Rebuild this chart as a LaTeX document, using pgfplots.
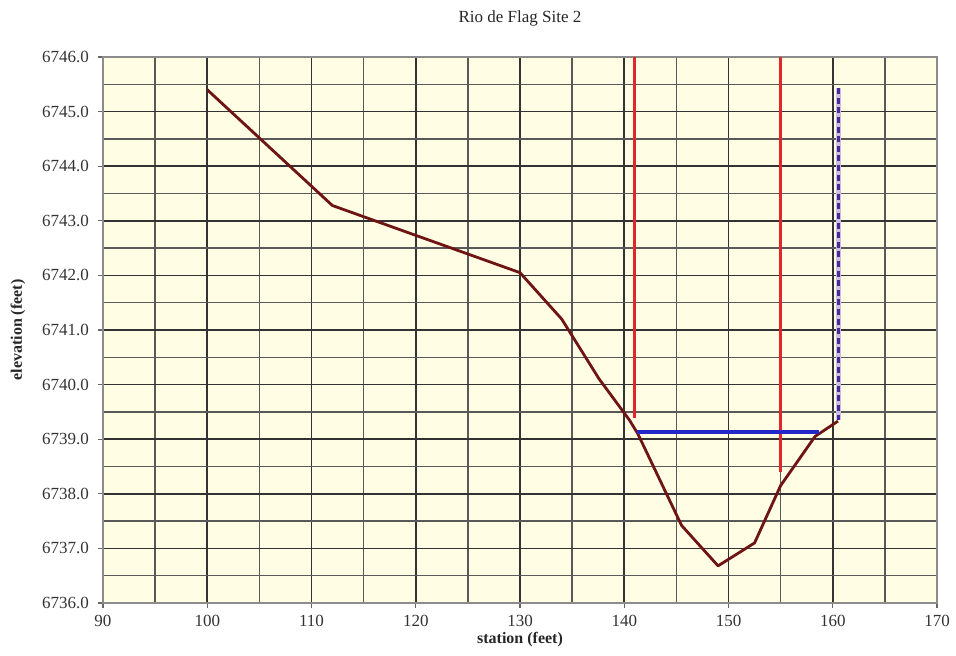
\documentclass[border=0pt]{standalone}
\usepackage{pgfplots}
\pgfplotsset{compat=1.18}
\usepackage{fontspec}
\setmainfont{Liberation Serif}
\definecolor{bgy}{HTML}{FFFDE3}
\definecolor{ground}{HTML}{6E1414}
\definecolor{redl}{HTML}{E0282C}
\definecolor{bluel}{HTML}{2428C8}
\definecolor{purp}{HTML}{4A2A9A}
\begin{document}
\begin{tikzpicture}
\begin{axis}[
  at={(0,0)}, anchor=south west,
  scale only axis, width=417pt, height=273pt,
  xmin=90, xmax=170, ymin=6736, ymax=6746,
  xtick={90,100,...,170}, minor xtick={95,105,...,165},
  ytick={6736,6737,...,6746}, minor ytick={6736.5,6737.5,...,6745.5},
  yticklabel={\pgfmathprintnumber[fixed,fixed zerofill,precision=1,use period,1000 sep={}]{\tick}},
  xticklabel={\pgfmathprintnumber[fixed,precision=0]{\tick}},
  /pgf/number format/assume math mode=true,
  tick label style={font=\fontsize{8.5}{10}\selectfont, text=black!80},
  grid=both,
  major grid style={draw=black!80, line width=0.85pt},
  minor grid style={draw=black!65, line width=0.75pt},
  axis background/.style={fill=bgy},
  axis line style={draw=black!45, line width=0.8pt},
  tick style={draw=black!60, line width=0.6pt},
  tick align=outside, major tick length=2.5pt, minor tick length=0pt,
  xtick pos=bottom, ytick pos=left,
  yticklabel style={xshift=-1pt},
]
\addplot[draw=ground, line width=1.4pt, line join=round] coordinates {
  (100,6745.40) (112,6743.28) (130,6742.05) (134,6741.20) (137.6,6740.10)
  (140.5,6739.35) (141.3,6739.10) (145.5,6737.42) (149,6736.68) (152.5,6737.10)
  (155,6738.15) (158.3,6739.05) (160.5,6739.33)
};
\addplot[draw=redl, line width=1.4pt] coordinates {(141,6746) (141,6739.38)};
\addplot[draw=redl, line width=1.4pt] coordinates {(155,6746) (155,6738.40)};
\addplot[draw=bluel, line width=1.7pt] coordinates {(141.2,6739.13) (158.7,6739.13)};
\addplot[draw=purp!30, line width=2.4pt] coordinates {(160.57,6745.43) (160.57,6739.35)};
\addplot[draw=purp, line width=1.3pt, dash pattern=on 3pt off 1.8pt] coordinates {(160.57,6745.43) (160.57,6739.35)};
\end{axis}
\node[font=\fontsize{8.5}{10}\selectfont, text=black!85] at (208.5pt,292.5pt) {Rio de Flag Site 2};
\node[font=\fontsize{8}{10}\selectfont\bfseries, text=black!85] at (208.5pt,-18.5pt) {station (feet)};
\node[font=\fontsize{8}{10}\selectfont\bfseries, text=black!85, rotate=90] at (-42.5pt,136.5pt) {elevation (feet)};
\pgfresetboundingbox
\useasboundingbox (-51.5pt,-26.5pt) rectangle (426.5pt,301.5pt);
\end{tikzpicture}
\end{document}
